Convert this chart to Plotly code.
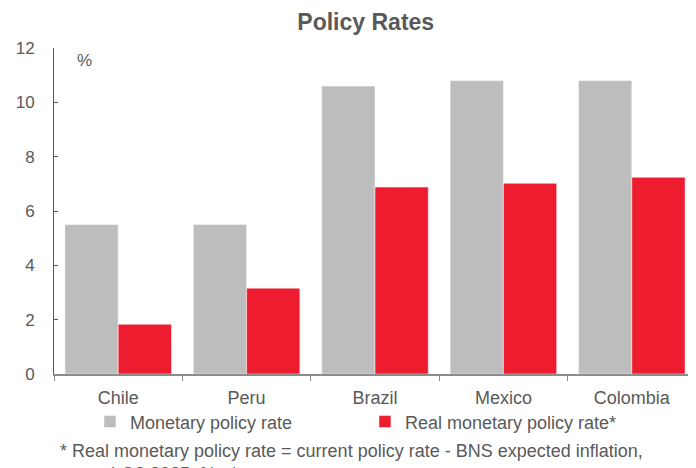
import plotly.graph_objects as go

countries = ["Chile", "Peru", "Brazil", "Mexico", "Colombia"]
policy_rate = [5.5, 5.5, 10.6, 10.8, 10.8]
real_rate = [1.83, 3.16, 6.88, 7.02, 7.24]
y_ticks = [0, 2, 4, 6, 8, 10, 12]

GRAY = "#BDBDBD"
RED = "#ED1C2E"
TEXT = "#595959"
FONT = "Liberation Sans, Arial, sans-serif"

fig = go.Figure()
fig.add_trace(go.Bar(x=countries, y=policy_rate, name="Monetary policy rate",
                     marker=dict(color=GRAY, line=dict(color="white", width=0.5))))
fig.add_trace(go.Bar(x=countries, y=real_rate, name="Real monetary policy rate*",
                     marker=dict(color=RED, line=dict(color="white", width=0.5))))

# the page adds an 8px body margin, so the figure is shifted by 8px
fig.update_layout(
    width=696, height=468,
    margin=dict(l=44, r=8, t=40, b=102),
    plot_bgcolor="white", paper_bgcolor="white",
    font=dict(family=FONT, size=18, color=TEXT),
    barmode="group", bargap=0.17, bargroupgap=0,
    title=dict(text="<b>Policy Rates</b>", x=0.514, xanchor="center",
               y=0.970, yanchor="middle", font=dict(size=23, color=TEXT)),
    legend=dict(orientation="h", x=0.056, xanchor="left", y=-0.147, yanchor="middle",
                entrywidth=230, entrywidthmode="pixels", itemwidth=30,
                bgcolor="rgba(0,0,0,0)", font=dict(size=18, color=TEXT)),
    showlegend=True,
)
fig.update_xaxes(showline=True, linecolor="#8C8C8C", linewidth=2,
                 ticks="outside", tickson="boundaries", ticklen=5, tickcolor="#8C8C8C",
                 ticklabelstandoff=6, tickfont=dict(size=18))
fig.update_yaxes(range=[0, 12], tickvals=y_ticks, showgrid=False, zeroline=False,
                 showline=True, linecolor="#595959", linewidth=1,
                 ticks="inside", ticklen=4, tickcolor="#595959", ticklabelstandoff=15,
                 tickfont=dict(size=17))

fig.add_annotation(text="%", xref="x domain", yref="y domain", x=0.047, y=0.963,
                   xanchor="center", yanchor="middle",
                   showarrow=False, font=dict(size=17, color=TEXT))
fig.add_annotation(text="* Real monetary policy rate = current policy rate - BNS expected inflation,"
                        "<br>     end-Q3 2025, % y/y",
                   xref="paper", yref="paper", x=0.006, y=-0.2, xanchor="left", yanchor="top",
                   align="left", showarrow=False, font=dict(size=18, color=TEXT))

fig.write_html("out.html")
